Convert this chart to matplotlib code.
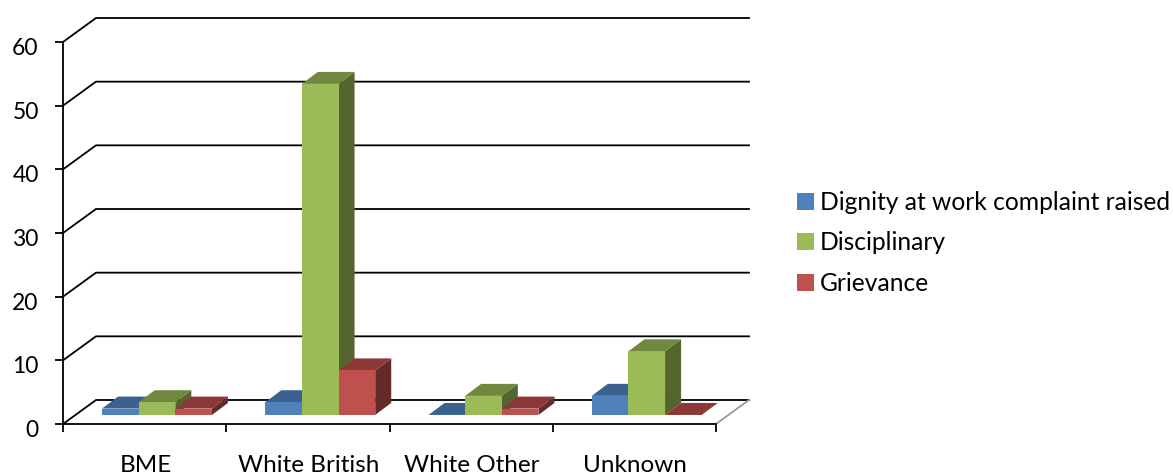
import matplotlib
matplotlib.use("Agg")
import matplotlib.pyplot as plt
from matplotlib.patches import Polygon, Patch
from matplotlib.transforms import ScaledTranslation

# Case counts per ethnic group
categories = ["BME", "White British", "White Other", "Unknown"]
dignity = [1, 2, 0, 3]
disciplinary = [2, 52, 3, 10]
grievance = [1, 7, 1, 0]
y_ticks = [0, 10, 20, 30, 40, 50, 60]

series_names = ["Dignity at work complaint raised", "Disciplinary", "Grievance"]
series_values = [dignity, disciplinary, grievance]
# front, top and side shades of each series
shades = [
    ("#4F81BD", "#3B618F", "#2E4B70"),
    ("#9BBB59", "#71893F", "#54652F"),
    ("#C0504D", "#8C3836", "#652B2B"),
]

W, H = 1173, 474
plt.rcParams["font.family"] = ["Lato", "DejaVu Sans"]

fig = plt.figure(figsize=(W / 100, H / 100), dpi=100, facecolor="white")
ax = fig.add_axes([63 / W, 1 - 424 / H, 653 / W, 382 / H], facecolor="none")
ax.set_xlim(0, 4)
ax.set_ylim(0, 60)

# pseudo-3D projection offsets, in data units
wall_dx, wall_dy = 0.2021, 3.77
bar_dx, bar_dy = 0.098, 1.885
bar_w = 0.2245
group_start = 0.239
floor_y = 1.42

LW = 1.3

# back-wall gridlines with their diagonal links to the value axis
for v in y_ticks:
    ax.plot([0, wall_dx, 4 + wall_dx], [v, v + wall_dy, v + wall_dy],
            color="black", lw=LW, clip_on=False, zorder=1,
            solid_joinstyle="miter")
ax.plot([4, 4 + wall_dx], [0, wall_dy], color="#9A9A9A", lw=LW,
        clip_on=False, zorder=1)

for s, (vals, (front, top, side)) in enumerate(zip(series_values, shades)):
    for c, v in enumerate(vals):
        x0 = c + group_start + s * bar_w
        x1 = x0 + bar_w
        y0, y1 = floor_y, floor_y + v
        z = 3 + c * 3 + s
        ax.add_patch(Polygon([(x1, y0), (x1 + bar_dx, y0 + bar_dy),
                              (x1 + bar_dx, y1 + bar_dy), (x1, y1)],
                             facecolor=side, edgecolor="none",
                             clip_on=False, zorder=z))
        ax.add_patch(Polygon([(x0, y1), (x1, y1), (x1 + bar_dx, y1 + bar_dy),
                              (x0 + bar_dx, y1 + bar_dy)],
                             facecolor=top, edgecolor="none",
                             clip_on=False, zorder=z))
        ax.add_patch(Polygon([(x0, y0), (x1, y0), (x1, y1), (x0, y1)],
                             facecolor=front, edgecolor="none",
                             clip_on=False, zorder=z))

for name in ("top", "right"):
    ax.spines[name].set_visible(False)
for name in ("left", "bottom"):
    ax.spines[name].set_linewidth(LW)
    ax.spines[name].set_zorder(2)

ax.set_yticks(y_ticks)
ax.set_xticks(range(5))
ax.set_xticklabels([])
ax.set_xticks([i + 0.5 for i in range(4)], labels=categories, minor=True)
ax.tick_params(axis="y", length=5.5, width=LW, labelsize=16.5, pad=12)
ax.tick_params(axis="x", which="major", length=5.5, width=LW)
ax.tick_params(axis="x", which="minor", length=0, labelsize=17.5, pad=22)

# nudge the tick labels by whole pixels
y_shift = ScaledTranslation(0, -4.5 / 100, fig.dpi_scale_trans)
for lab in ax.get_yticklabels():
    lab.set_transform(lab.get_transform() + y_shift)
x_shift = ScaledTranslation(1 / 100, 0, fig.dpi_scale_trans)
for lab in ax.get_xticklabels(minor=True):
    lab.set_transform(lab.get_transform() + x_shift)

handles = [Patch(facecolor=sh[0], edgecolor="none") for sh in shades]
fig.legend(handles, series_names, loc="center left",
           bbox_to_anchor=(797 / W, 1 - 243 / H), frameon=False,
           fontsize=17.7, handlelength=0.69, handleheight=0.69,
           handletextpad=0.25, labelspacing=0.71, borderpad=0, borderaxespad=0)

fig.savefig("out.png", dpi=100, facecolor="white")
